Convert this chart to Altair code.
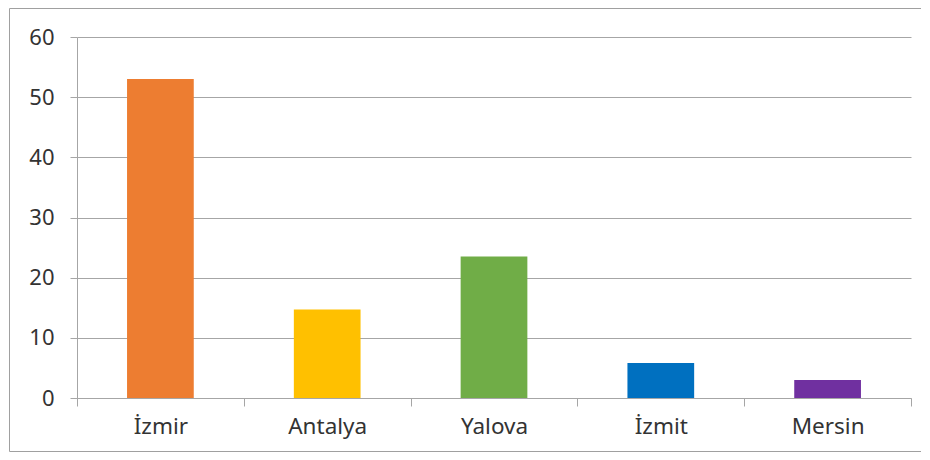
import altair as alt
import pandas as pd

cities = ["İzmir", "Antalya", "Yalova", "İzmit", "Mersin"]
values = [53, 14.7, 23.5, 5.8, 3.0]
colors = ["#ED7D31", "#FFC000", "#70AD47", "#0070C0", "#7030A0"]
y_ticks = [0, 10, 20, 30, 40, 50, 60]

df = pd.DataFrame({"city": cities, "value": values})

FONT = "Noto Sans"
TEXT = "#333333"
GRID = "#a6a6a6"

bars = alt.Chart(df).mark_bar(width=alt.RelativeBandSize(0.4)).encode(
    x=alt.X("city:N", sort=cities, title=None,
            scale=alt.Scale(paddingInner=0, paddingOuter=0),
            axis=alt.Axis(labelAngle=0, tickBand="extent", grid=False,
                          domainColor=GRID, tickColor=GRID, tickSize=8,
                          labelFont=FONT, labelFontSize=22.5, labelColor=TEXT,
                          labelPadding=9)),
    y=alt.Y("value:Q", title=None,
            scale=alt.Scale(domain=[0, 60], nice=False),
            axis=alt.Axis(values=y_ticks, grid=True, gridColor=GRID,
                          domainColor=GRID, tickColor=GRID, tickSize=7,
                          labelFont=FONT, labelFontSize=22, labelColor=TEXT,
                          labelPadding=16)),
    color=alt.Color("city:N", sort=cities,
                    scale=alt.Scale(domain=cities, range=colors), legend=None),
)

border = alt.Chart(alt.Data(values=[{}])).mark_rect(
    filled=False, stroke="#a0a0a0", strokeWidth=1
).encode(
    x=alt.value(-67.5), x2=alt.value(844.5), y=alt.value(-28.5), y2=alt.value(414.5)
)

chart = alt.layer(bars, border).properties(
    width=834, height=361,
    padding={"left": 69, "top": 29, "right": 10, "bottom": 54},
    autosize=alt.AutoSizeParams(type="none"),
).configure_view(stroke=None)

chart.save("out.html", embed_options={"renderer": "svg", "actions": False})
